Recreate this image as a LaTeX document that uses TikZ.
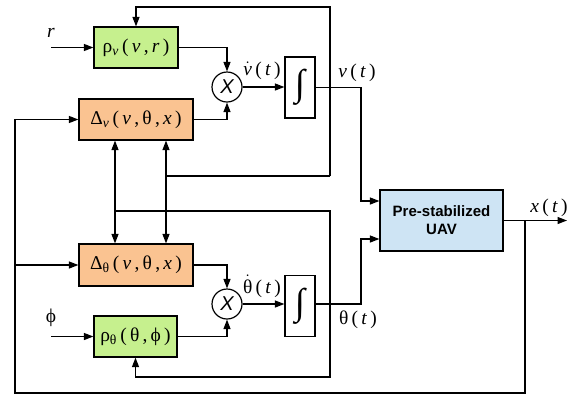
\documentclass[tikz,border=0pt]{standalone}
\usepackage{fontspec}
\setmainfont{Liberation Serif}
\setsansfont{Liberation Sans}
\usetikzlibrary{arrows.meta}
\definecolor{gfill}{RGB}{198,240,142}
\definecolor{ofill}{RGB}{250,195,145}
\definecolor{bfill}{RGB}{206,228,244}
\newcommand\lblfont{\fontsize{19.5}{22}\selectfont}
\newcommand\vv{\textit{v}}
\begin{document}
\begin{tikzpicture}[x=1pt,y=-1pt,line width=1.2pt,
  >={Triangle[length=9.5pt,width=7pt]},
  blk/.style={draw,inner sep=0pt,font=\lblfont,line width=1.2pt},
  mult/.style={draw,circle,inner sep=0pt,minimum size=30pt,font=\sffamily\itshape\fontsize{20}{20}\selectfont},
  intbox/.style={draw,inner sep=0pt,minimum width=30pt,minimum height=61pt,font=\fontsize{37}{37}\selectfont},
  lbl/.style={inner sep=0pt,font=\lblfont}]
\useasboundingbox (0,0) rectangle (577,397);

% blocks
\node[blk,fill=gfill,minimum width=84pt,minimum height=41pt] (rhov) at (136,47.5)
  {ρ\textsubscript{\vv}\,(\,\vv\,,\,\textit{r}\,)};
\node[blk,fill=ofill,minimum width=114pt,minimum height=41pt] (dv) at (136,119.5)
  {Δ\textsubscript{\vv}\,(\,\vv\,,\,θ\,,\,\textit{x}\,)};
\node[blk,fill=ofill,minimum width=114pt,minimum height=42pt] (dth) at (136,265)
  {Δ\textsubscript{θ}\,(\,\vv\,,\,θ\,,\,\textit{x}\,)};
\node[blk,fill=gfill,minimum width=83pt,minimum height=41pt] (rhoth) at (135.5,336.5)
  {ρ\textsubscript{θ}\,(\,θ\,,\,ϕ\,)};
\node[mult] (mv) at (227,87) {X};
\node[mult] (mth) at (227,304) {X};
\node[intbox] (intv) at (300,87.5) {∫};
\node[intbox] (intth) at (300,306) {∫};
\node[draw,fill=bfill,inner sep=0pt,minimum width=123pt,minimum height=61pt,align=center,
  font=\sffamily\bfseries\fontsize{15}{18}\selectfont] (uav) at (441.5,220.5) {Pre-stabilized\\UAV};

% labels
\node[lbl] (lr) at (51,33) {\textit{r}};
\node[lbl] (lphi) at (51,318) {ϕ};
\node[lbl] (lvd) at (262,71) {$\dot{\mbox{\vv}}$\,(\,\textit{t}\,)};
\node[lbl] (lthd) at (262,286) {$\dot{\mbox{θ}}$\,(\,\textit{t}\,)};
\node[lbl] (lv) at (357,73) {\vv\,(\,\textit{t}\,)};
\node[lbl] (lth) at (358,320) {θ\,(\,\textit{t}\,)};
\node[lbl] (lx) at (549,208) {\textit{x}\,(\,\textit{t}\,)};

% coordinates
\coordinate (rin) at (51,47.5);
\coordinate (phin) at (51,336.5);
\coordinate (jv) at (361,87.5);
\coordinate (jth) at (361,304);
\coordinate (xout) at (567,220.5);
\coordinate (xfb) at (525,220.5);
\coordinate (fbL) at (15,393);
\coordinate (tv) at (330,176);
\coordinate (tvtop) at (330,7);
\coordinate (bth) at (330,211);
\coordinate (bthbot) at (330,377);
\coordinate (a1) at (166,176);
\coordinate (a2) at (115,211);

% forward paths
\draw[->] (rin) -- (rhov.west);
\draw[->] (phin) -- (rhoth.west);
\draw[->] (rhov.east) -| (mv.north);
\draw[->] (dv.east) -| (mv.south);
\draw[->] (dth.east) -| (mth.north);
\draw[->] (rhoth.east) -| (mth.south);
\draw[->] (mv.east) -- (mv.east -| intv.west);
\draw[->] (mth.east) -- (mth.east -| intth.west);
\draw[->] (intv.east) -- (jv) |- ([yshift=19.5pt]uav.west);
\draw[->] (intth.east |- jth) -- (jth) |- ([yshift=-18.5pt]uav.west);
\draw[->] (uav.east) -- (xout);

% feedback
\draw[->] (xfb) |- (fbL) |- (dv.west);
\draw[->] (fbL |- dth.west) -- (dth.west);
\draw[->] (tv) -- (tvtop) -| (rhov.north);
\draw (tv) -- (a1);
\draw[->] (a2) -- (bth) -- (bthbot) -| (rhoth.south);
\draw[<->] (dv.south -| a1) -- (dth.north -| a1);
\draw[<->] (dv.south -| a2) -- (dth.north -| a2);
\end{tikzpicture}
\end{document}
